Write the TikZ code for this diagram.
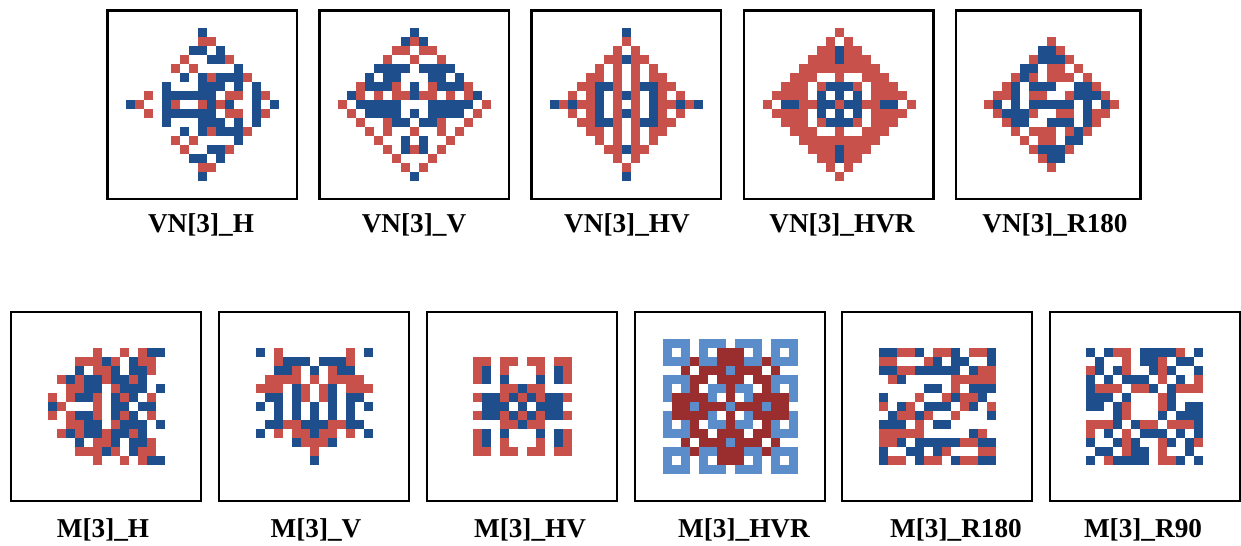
\documentclass[tikz,border=0pt]{standalone}
\usepackage{fontspec}
\setmainfont{Liberation Serif}
\usepackage{tikz}
\definecolor{cellred}{HTML}{C8514C}
\definecolor{cellblue}{HTML}{1F4E8C}
\definecolor{cellsky}{HTML}{5B8DCB}
\definecolor{cellwine}{HTML}{9A2E2E}

% one pattern row: R red, B blue, L light blue, D dark red, - empty
\newcount\pixcol
\def\pixsz{9}
\def\pixrow#1#2#3{\pixcol=0 \def\pixx{#1}\def\pixy{#2}\expandafter\pixscan#3\relax}
\def\pixscan#1{\ifx#1\relax\else\pixcell#1\advance\pixcol by 1\relax\expandafter\pixscan\fi}
\def\pixfill#1{\fill[#1] (\pixx+\the\pixcol*\pixsz,\pixy) rectangle ++(\pixsz,\pixsz);}
\def\pixcell#1{%
  \if R#1\pixfill{cellred}\fi
  \if B#1\pixfill{cellblue}\fi
  \if L#1\pixfill{cellsky}\fi
  \if D#1\pixfill{cellwine}\fi}
\newcommand\pixgrid[3]{%
  \foreach \pixline [count=\pixk from 0] in {#3}{\pixrow{#1}{#2+\pixk*\pixsz}{\pixline}}}

\tikzset{
  frame/.style={draw=black, line width=1.2pt},
  tag/.style={font=\bfseries\fontsize{15.5}{18}\selectfont, anchor=base, inner sep=0pt}
}

\begin{document}
\begin{tikzpicture}[x=0.02cm, y=-0.02cm]
  \useasboundingbox (0,0) rectangle (1241,545);
  % top row: von Neumann patterns (17 x 17, last one 15 x 15)
  \def\topy{10.5} \def\toph{188.5}
  \draw[frame] (107.5,\topy) rectangle ++(189.5,\toph);
  \draw[frame] (319.5,\topy) rectangle ++(189.5,\toph);
  \draw[frame] (531.5,\topy) rectangle ++(189.5,\toph);
  \draw[frame] (744.0,\topy) rectangle ++(189.5,\toph);
  \draw[frame] (956.0,\topy) rectangle ++(184.5,\toph);

  \pixgrid{125.8}{28.3}{
    --------B--------,
    --------RR-------,
    -------BB-B------,
    ------R--BBR-----,
    -----R-R----B----,
    ------B-BRBBBR---,
    ----B---BBB-B-B--,
    --R-BBBBBB-RR-BR-,
    BR--BR--RBRB--B-B,
    --R-BBBBBB-RR-BR-,
    ----B---BBB-B-B--,
    ------B-BRBBBR---,
    -----R-R----B----,
    ------R--BBR-----,
    -------BB-B------,
    --------RR-------,
    --------B--------}
  \pixgrid{337.5}{28.3}{
    --------B--------,
    -------BRB-------,
    ------RR-RR------,
    -----R--R--R-----,
    ----BBBB-BBBB----,
    ---B-BB---BB-B---,
    --RBBBR-B-RBBBR--,
    -BR-R-RRBRR-R-RB-,
    R-BBBBB---BBBBB-R,
    -R-BBBB-B-BBBB-R-,
    --R--RBB-BBR--R--,
    ---R-R--R--R-R---,
    ----R--B-B--R----,
    -----R-BRB-R-----,
    ------R---R------,
    -------R-R-------,
    --------B--------}
  \pixgrid{549.5}{28.3}{
    --------B--------,
    --------R--------,
    -------R-R-------,
    ------RRBRR------,
    -----R-R-R-R-----,
    ----RR-R-R-RR----,
    ---RRBBR-RBBRR---,
    --R-RB-RBR-BR-R--,
    BRBRRB-R-R-BRRBRB,
    --R-RB-RBR-BR-R--,
    ---RRBBR-RBBRR---,
    ----RR-R-R-RR----,
    -----R-R-R-R-----,
    ------RRBRR------,
    -------R-R-------,
    --------R--------,
    --------B--------}
  \pixgrid{762.5}{28.3}{
    --------R--------,
    -------R-R-------,
    ------RRBRR------,
    -----RRRBRRR-----,
    ----RRRRRRRRR----,
    ---RRR--R--RRR---,
    --RRR-RBBBR-RRR--,
    -RRRR-B-B-B-RRRR-,
    R-BBRRBBRBBRRBB-R,
    -RRRR-B-B-B-RRRR-,
    --RRR-RBBBR-RRR--,
    ---RRR--R--RRR---,
    ----RRRRRRRRR----,
    -----RRRBRRR-----,
    ------RRBRR------,
    -------R-R-------,
    --------R--------}
  \pixgrid{984.3}{37.3}{
    -------R-------,
    ------BBR------,
    -----RBBBR-----,
    ----BB-RR-R----,
    ---RBR-RRR-R---,
    --RB-BBB--BBR--,
    -RRB-RR--RBBBR-,
    RB-B-BBBBB-B-BR,
    -RBBBR--RR-BRR-,
    --RBB--BBB-BR--,
    ---R-RRR-RBR---,
    ----R-RR-BB----,
    -----RBBBR-----,
    ------RBB------,
    -------R-------}

  \node[tag] (tVNH)    at (201,232)  {VN[3]\_H};
  \node[tag] (tVNV)    at (414,232)  {VN[3]\_V};
  \node[tag] (tVNHV)   at (627,232)  {VN[3]\_HV};
  \node[tag] (tVNHVR)  at (842,232)  {VN[3]\_HVR};
  \node[tag] (tVNR)    at (1055,232) {VN[3]\_R180};

  % bottom row: Moore patterns (13 x 13, HVR 15 x 15)
  \def\boty{312.3} \def\both{188.4}
  \draw[frame] (11.3,\boty) rectangle ++(189.4,\both);
  \draw[frame] (219.3,\boty) rectangle ++(189.4,\both);
  \draw[frame] (427.3,\boty) rectangle ++(189.4,\both);
  \draw[frame] (635.3,\boty) rectangle ++(189.4,\both);
  \draw[frame] (842.3,\boty) rectangle ++(189.4,\both);
  \draw[frame] (1050.3,\boty) rectangle ++(189.4,\both);

  \pixgrid{47.5}{348}{
    -----R--R-RBB,
    ---RRRBR-BRR-,
    ---B-RRB-BBR-,
    -RBRBBRBBRB--,
    --RRBB-RBBB-B,
    R-RBBR-BRB-R-,
    BR---R-BB-BB-,
    R-RBBR-BRB-R-,
    --RRBB-RBBB-B,
    -RBRBBRBBRB--,
    ---B-RRB-BBR-,
    ---RRRBR-BRR-,
    -----R--R-RBB}
  \pixgrid{255.5}{348}{
    B-R-------R-B,
    --RBBB-BBBR--,
    --BBR-B-RBB--,
    -RRRR-R-RRRR-,
    RRR-BR-RB-RRR,
    -BB-BR-RB-BB-,
    B-B-B-B-B-B-B,
    --B-B-B-B-B--,
    -BBRRBBBRRBB-,
    B-R-RRBRR-R-B,
    ----BRRRB----,
    ------R------,
    ------B------}
  \pixgrid{463.5}{348}{
    -------------,
    -RR-RR-RR-RR-,
    -RB-R---R-BR-,
    -RB-B---B-BR-,
    ----RRBRR----,
    -RBBRBRBRBBR-,
    --BBB-B-BBB--,
    -RBBRBRBRBBR-,
    ----RRBRR----,
    -RB-B---B-BR-,
    -RB-R---R-BR-,
    -RR-RR-RR-RR-,
    -------------}
  \pixgrid{662.5}{339}{
    LLL-LLL-LLL-LLL,
    L-L-L-DDD-L-L-L,
    LLLDLLDDDLLDLLL,
    --D-DDDLDDD-D--,
    LLLDD-DDD-DDLLL,
    L-LD-LLDLL-DL-L,
    LDDDDL-D-LDDDDL,
    -DDLDDDLDDDLDD-,
    LDDDDL-D-LDDDDL,
    L-LD-LLDLL-DL-L,
    LLLDD-DDD-DDLLL,
    --D-DDDLDDD-D--,
    LLLDLLDDDLLDLLL,
    L-L-L-DDD-L-L-L,
    LLL-LLL-LLL-LLL}
  \pixgrid{878.5}{348}{
    BBRRB-RRB-RRB,
    RR---RB-BB--B,
    BBRRBBBBB-BRR,
    -RB-----RRRRR,
    -----BB-R-BBB,
    B---R--RBRRB-,
    R-BR-BBB-RB-R,
    -BRRBR--R---B,
    BBB-R-BB-----,
    RRRRR-----BR-,
    RRB-BBBBBRRBB,
    B--BB-BR---RR,
    BRR-BRR-BRRBB}
  \pixgrid{1086}{348}{
    B-BRR-BBBBR-B,
    -B--R-BBR-BB-,
    RB-BR--BRB--B,
    B-B-BBB-R-B-R,
    BRRR-RRB-BRRR,
    BBB-B---RB---,
    BB-BR---RB-BB,
    ---BR---B-BBB,
    RRRB-BRR-RRRB,
    R-B-R-BBB-B-B,
    B--BRB--RB-BR,
    -BB-RBB-R--B-,
    B-RBBBB-RRB-B}

  \node[tag] (tMH)    at (103,537)  {M[3]\_H};
  \node[tag] (tMV)    at (316,537)  {M[3]\_V};
  \node[tag] (tMHV)   at (530,537)  {M[3]\_HV};
  \node[tag] (tMHVR)  at (744,537)  {M[3]\_HVR};
  \node[tag] (tMR)    at (956,537)  {M[3]\_R180};
  \node[tag] (tMRn)   at (1143,537) {M[3]\_R90};
\end{tikzpicture}
\end{document}
